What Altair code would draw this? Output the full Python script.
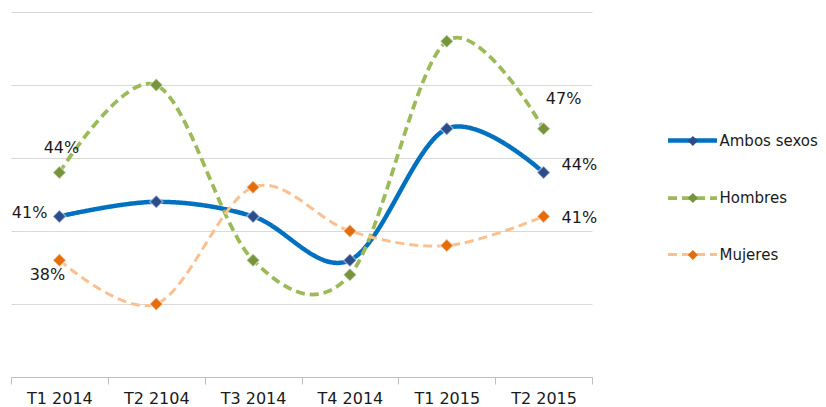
import altair as alt
import pandas as pd

quarters = ["T1 2014", "T2 2104", "T3 2014", "T4 2014", "T1 2015", "T2 2015"]
series = ["Ambos sexos", "Hombres", "Mujeres"]
ambos = [41, 42, 41, 38, 47, 44]
hombres = [44, 50, 38, 37, 53, 47]
mujeres = [38, 35, 43, 40, 39, 41]

line_colors = ["#0070C0", "#9BBB59", "#FAC090"]
marker_colors = ["#2B4D8C", "#77933C", "#E46C0A"]

rows = []
for s, vals in zip(series, [ambos, hombres, mujeres]):
    for q, v in zip(quarters, vals):
        rows.append({"serie": s, "trimestre": q, "valor": v})
df = pd.DataFrame(rows)

marker_keys = ["m_" + s for s in series]

FONT = "DejaVu Sans"

x_enc = alt.X("trimestre:N", sort=quarters, bandPosition=0.5,
              scale=alt.Scale(type="band", domain=quarters, paddingInner=0, paddingOuter=0),
              axis=alt.Axis(title=None, labelAngle=0, labelFontSize=16, labelFont=FONT,
                            labelColor="#1a1a1a", domainColor="#BFBFBF", tickColor="#BFBFBF",
                            tickSize=7, tickBand="extent", labelPadding=6, grid=False))
y_enc = alt.Y("valor:Q", scale=alt.Scale(domain=[30, 55], nice=False, zero=False),
              axis=alt.Axis(title=None, labels=False, ticks=False, domain=False,
                            values=[35, 40, 45, 50, 55], grid=True, gridColor="#D9D9D9",
                            gridWidth=1))

base = alt.Chart(df)

lines = base.mark_line(interpolate="cardinal", tension=0).encode(
    x=x_enc, y=y_enc,
    stroke=alt.Stroke("serie:N", scale=alt.Scale(domain=series, range=line_colors),
                      legend=alt.Legend(title=None, orient="none", legendX=654.5, legendY=101.5,
                                        symbolType="stroke", symbolSize=2400, rowPadding=22,
                                        labelFontSize=15, labelFont=FONT, labelColor="#1a1a1a",
                                        labelOffset=0, labelLimit=200)),
    strokeDash=alt.StrokeDash("serie:N", scale=alt.Scale(domain=series, range=[[1, 0], [9, 5], [9, 5]])),
    strokeWidth=alt.StrokeWidth("serie:N", scale=alt.Scale(domain=series, range=[4.5, 3, 3])),
    order=alt.Order("serie:N"),
)

points = base.transform_calculate(marcador="'m_' + datum.serie").mark_point(
    shape="diamond", filled=True, size=170, stroke="white",
    strokeOpacity=0.45, strokeWidth=1.5, opacity=1).encode(
    x=x_enc, y=y_enc,
    fill=alt.Fill("marcador:N", scale=alt.Scale(domain=marker_keys, range=marker_colors),
                  legend=alt.Legend(title=None, orient="none", legendX=676.9, legendY=123.9,
                                    symbolType="diamond", symbolSize=100, rowPadding=47,
                                    labelFontSize=1, labelOpacity=0, symbolStrokeWidth=0,
                                    labelOffset=0)),
)

label_specs = [
    ("Hombres", "T1 2014", "center", 2, -25),
    ("Ambos sexos", "T1 2014", "right", -12, -3),
    ("Mujeres", "T1 2014", "center", -12, 15),
    ("Hombres", "T2 2015", "center", 20, -30),
    ("Ambos sexos", "T2 2015", "left", 18, -8),
    ("Mujeres", "T2 2015", "left", 18, 2),
]

texts = []
for s, q, al, dx, dy in label_specs:
    t = base.transform_filter(
        (alt.datum.serie == s) & (alt.datum.trimestre == q)
    ).transform_calculate(
        etiqueta="format(datum.valor, '.0f') + '%'"
    ).mark_text(align=al, baseline="middle", dx=dx, dy=dy, fontSize=16, font=FONT,
                color="#1a1a1a").encode(x=x_enc, y=y_enc, text="etiqueta:N")
    texts.append(t)

chart = alt.layer(lines, points, *texts).properties(
    width=581, height=365,
    autosize=alt.AutoSizeParams(type="none"),
    padding={"left": 3, "top": 4, "right": 226, "bottom": 30},
).configure(font=FONT).configure_view(stroke=None)

chart.save("out.html", embed_options={"renderer": "svg", "actions": False})
